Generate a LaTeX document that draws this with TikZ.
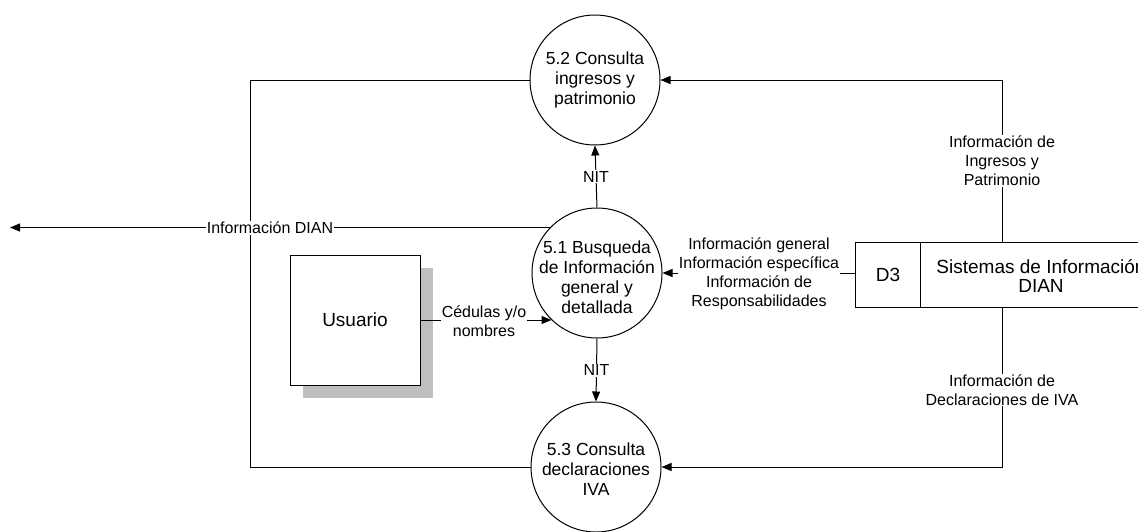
\documentclass[tikz,border=0pt]{standalone}
\usepackage{fontspec}
\setmainfont{Liberation Sans}
\usetikzlibrary{arrows.meta}
\begin{document}
\begin{tikzpicture}[x=1pt,y=-1pt,
  line/.style={line width=1pt,draw=black},
  arr/.style={line width=1pt,-{Triangle[length=10pt,width=8pt]}},
  proc/.style={circle,draw,line width=1pt,minimum size=130pt,inner sep=0pt},
  ptext/.style={align=center,font=\fontsize{17.5}{20}\selectfont,inner sep=0pt},
  lab/.style={align=center,font=\fontsize{16}{19}\selectfont,fill=white,inner sep=1pt},
  ent/.style={draw,line width=1pt,fill=white,minimum width=130pt,minimum height=130pt,inner sep=0pt,font=\fontsize{19}{21}\selectfont},
  shadowbox/.style={fill=gray!50,minimum width=130pt,minimum height=130pt,inner sep=0pt},
  storetext/.style={align=center,font=\fontsize{19}{19}\selectfont,inner sep=0pt}]
\useasboundingbox (0,0) rectangle (1138,531);

% processes
\node[proc] (c52) at (595,80) {};
\node[ptext] at (c52) {5.2 Consulta\\ingresos y\\patrimonio};
\node[proc] (c51) at (597,273) {};
\node[ptext] at (597,277) {5.1 Busqueda\\de Información\\general y\\detallada};
\node[proc] (c53) at (596,467) {};
\node[ptext] at (596,469) {5.3 Consulta\\declaraciones\\IVA};

% entity with shadow
\node[shadowbox] (ushadow) at (368,333) {};
\node[ent] (user) at (355,320) {Usuario};

% data store
\coordinate (dsA) at (855,242);
\coordinate (dsB) at (1150,307);
\draw[line] (dsA) rectangle (dsB);
\coordinate (dsdiv1) at (920,242);
\coordinate (dsdiv2) at (920,307);
\draw[line] (dsdiv1) -- (dsdiv2);
\node[storetext] (d3) at (888,275) {D3};
\node[storetext] (dsname) at (1041,276) {Sistemas de Información\\DIAN};

% left loop
\coordinate (lt) at (250,80);
\coordinate (lb) at (250,467);
\draw[line] (c52.west) -- (lt) -- (lb) -- (c53.west);

% Información DIAN
\coordinate (dianend) at (10,228);
\draw[arr] (c51.136) -- (c51.136 -| dianend);
\node[lab] (ldian) at (270,228) {Información DIAN};

% NIT flows
\draw[arr] (c51.north) -- node[lab] {NIT} (c52.south);
\draw[arr] (c51.south) -- node[lab] {NIT} (c53.north);

% Usuario flow
\draw[arr] (user.east) -- (user.east -| c51.226);
\node[lab] (lced) at (484,321) {Cédulas y/o\\nombres};

% D3 to 5.1
\coordinate (dsleft) at (855,273);
\draw[arr] (dsleft) -- (dsleft -| c51.east);
\node[lab] (linfo) at (759,274) {Información general\\Información específica\\Información de\\Responsabilidades};

% D3 to 5.2
\coordinate (dstop) at (1002,242);
\coordinate (tr) at (1002,80);
\draw[arr] (dstop) -- (tr) -- (c52.east);
\node[lab] (ling) at (1002,161) {Información de\\Ingresos y\\Patrimonio};

% D3 to 5.3
\coordinate (dsbot) at (1002,307);
\coordinate (br) at (1002,467);
\draw[arr] (dsbot) -- (br) -- (c53.east);
\node[lab] (ldec) at (1002,390) {Información de\\Declaraciones de IVA};
\end{tikzpicture}
\end{document}
